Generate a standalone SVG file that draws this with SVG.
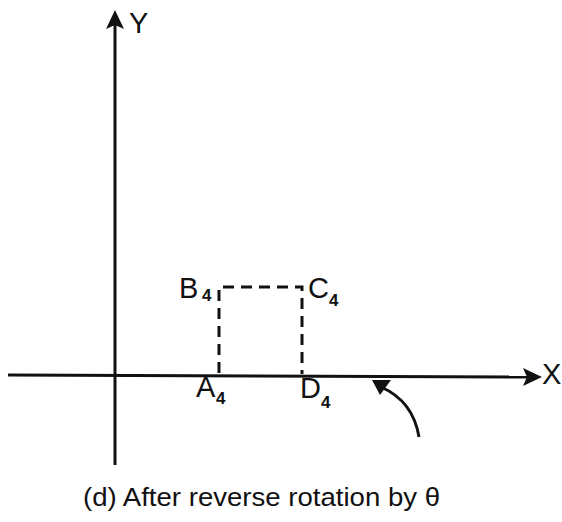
<svg xmlns="http://www.w3.org/2000/svg" width="562" height="522" viewBox="0 0 562 522">
<style>
.ax{stroke:#111;stroke-width:3;fill:none}
.dash{stroke:#111;stroke-width:3;fill:none;stroke-dasharray:11,7}
.lbl{font-family:"Liberation Sans",Arial,sans-serif;font-size:29px;fill:#111}
.sub{font-family:"Liberation Sans",Arial,sans-serif;font-size:17px;fill:#111;font-weight:bold}
.cap{font-family:"Liberation Sans",Arial,sans-serif;font-size:25px;fill:#111}
</style>
<rect width="562" height="522" fill="#fff"/>
<g id="connectors">
<line class="ax" x1="115" y1="465" x2="115" y2="24"/>
<polygon points="115,10 106,29 115,25 124,29" fill="#111"/>
<line class="ax" x1="8" y1="375" x2="528" y2="377"/>
<polygon points="542,377 523,368 527,377 523,386" fill="#111"/>
<path class="ax" d="M419,437 Q413,401 381,387"/>
<polygon points="372,380 391,380 380,395" fill="#111"/>
<path class="dash" d="M219,373 V287 H302 V374"/>
</g>
<g id="Y"><text class="lbl" x="129" y="33">Y</text></g>
<g id="X"><text class="lbl" x="542" y="384">X</text></g>
<g id="B4"><text class="lbl" x="179" y="298">B</text><text class="sub" x="202" y="301">4</text></g>
<g id="C4"><text class="lbl" x="308" y="298">C</text><text class="sub" x="329" y="306">4</text></g>
<g id="A4"><text class="lbl" x="196" y="397">A</text><text class="sub" x="216" y="404">4</text></g>
<g id="D4"><text class="lbl" x="300" y="398">D</text><text class="sub" x="321" y="408">4</text></g>
<g id="caption"><text class="cap" x="83" y="506" textLength="357" lengthAdjust="spacingAndGlyphs">(d) After reverse rotation by θ</text></g>
</svg>
